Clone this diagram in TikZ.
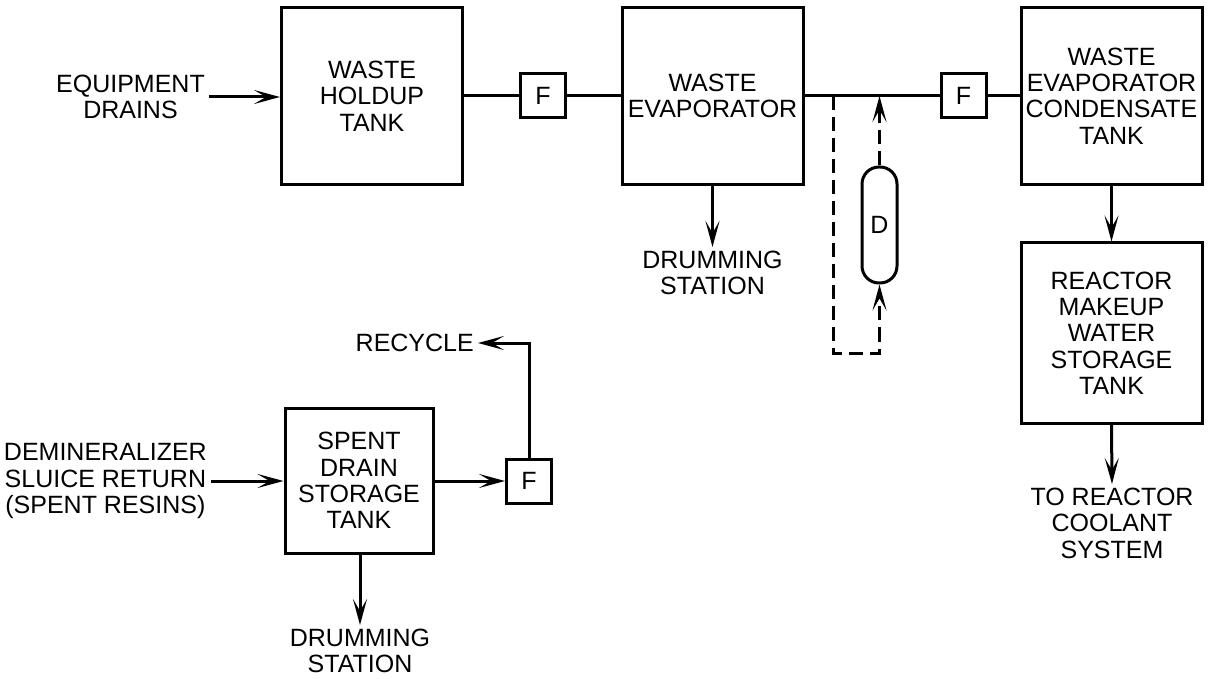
\documentclass[tikz,border=0pt]{standalone}
\usepackage{fontspec}
\setmainfont{Liberation Sans}
\usetikzlibrary{arrows.meta}
\tikzset{
  every node/.style={font=\fontsize{25}{26.3}\selectfont, align=center},
  box/.style={draw, line width=3pt, inner sep=0pt},
  bigbox/.style={box, minimum width=181pt, minimum height=177pt},
  fbox/.style={box, minimum width=45pt, minimum height=44pt},
  lbl/.style={inner sep=4pt},
  pipe/.style={line width=3pt},
  tip/.style={-{Stealth[length=26pt,width=14pt,inset=12pt]}},
  flow/.style={pipe, tip},
  dsh/.style={line width=3pt, dash pattern=on 14pt off 7pt},
}
\begin{document}
\begin{tikzpicture}[x=1pt,y=-1pt]
\useasboundingbox (0,0) rectangle (1211,679);
% main boxes
\node[bigbox] (holdup) at (372,96) {WASTE\\HOLDUP\\TANK};
\node[fbox] (f1) at (543,96) {F};
\node[bigbox] (evap) at (712.5,96) {WASTE\\EVAPORATOR};
\node[fbox] (f2) at (963.5,96) {F};
\node[bigbox] (cond) at (1111.5,96) {WASTE\\EVAPORATOR\\CONDENSATE\\TANK};
\node[bigbox, minimum height=180pt] (rmw) at (1111.5,333) {REACTOR\\MAKEUP\\WATER\\STORAGE\\TANK};
\node[box, minimum width=148pt, minimum height=145pt] (spent) at (359,480.5) {SPENT\\DRAIN\\STORAGE\\TANK};
\node[fbox] (f3) at (529,481) {F};
\node[draw, line width=3pt, rounded corners=17pt, minimum width=35pt, minimum height=116pt, inner sep=0pt] (D) at (879.5,225) {D};
% labels
\node[lbl, anchor=east] (eqd) at (209,97) {EQUIPMENT\\DRAINS};
\node[lbl, anchor=north] (drum1) at (712.5,247) {DRUMMING\\STATION};
\node[lbl, anchor=east] (demin) at (211,481) {DEMINERALIZER\\SLUICE RETURN\\(SPENT RESINS)};
\node[lbl, anchor=north] (drum2) at (360,625) {DRUMMING\\STATION};
\node[lbl, anchor=east] (recyc) at (478,343) {RECYCLE};
\node[lbl, anchor=north] (trcs) at (1112,484) {TO REACTOR\\COOLANT\\SYSTEM};
% coordinates
\coordinate (j1) at (833,96);
\coordinate (j2) at (879.5,96);
\coordinate (c1) at (833,353);
\coordinate (c2) at (879.5,353);
\coordinate (rc) at (529,343);
% connectors
\draw[flow] (eqd.east) -- (eqd.east -| holdup.west);
\draw[pipe] (holdup.east) -- (f1.west);
\draw[pipe] (f1.east) -- (evap.west);
\draw[pipe] (evap.east) -- (f2.west);
\draw[pipe] (f2.east) -- (cond.west);
\draw[flow] (evap.south) -- (drum1.north);
\draw[flow] (cond.south) -- (rmw.north);
\draw[flow] (rmw.south) -- (trcs.north);
\draw[flow] (demin.east) -- (demin.east -| spent.west);
\draw[flow] (spent.east |- f3.west) -- (f3.west);
\draw[flow] (spent.south -| drum2.north) -- (drum2.north);
\draw[flow] (f3.north) -- (rc) -- (recyc.east);
\draw[dsh, tip] (j1) -- (c1) -- (c2) -- (D.south);
\draw[dsh, tip] (D.north) -- (j2);
\end{tikzpicture}
\end{document}
